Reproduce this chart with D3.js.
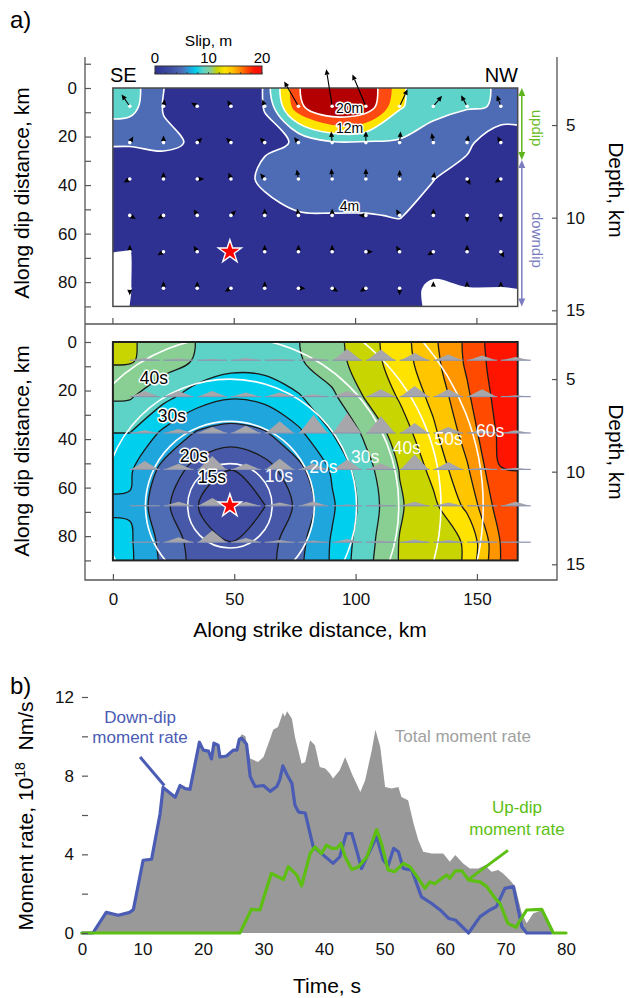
<!DOCTYPE html>
<html>
<head>
<meta charset="utf-8">
<script src="https://cdn.jsdelivr.net/npm/d3@7"></script>
<style>
  body { margin: 0; background: #fff; }
  svg { font-family: "Liberation Sans", Arial, sans-serif; }
</style>
</head>
<body>
<svg width="629" height="998"></svg>
<script>
// fault model: 12 subfaults along strike, 6 down dip
var nStrike = 12, nDip = 6;
var faultLength = 166.8, faultWidth = 90;   // km
var hypocenter = [48.2, 67.5];              // km along strike, km along dip

// slip per subfault (m), rows = down dip
var slip = [
  [9.5, 3.8, 2.0, 2.0, 4.1, 19, 25, 23, 12.5, 9, 8.3, 7.8],
  [4.3, 4.6, 3.6, 2.5, 3.5, 4.2, 7.5, 7.5, 7.5, 6.5, 5.0, 0.4],
  [1.5, 2.0, 2.0, 2.0, 4.8, 6.5, 7.0, 7.0, 6.0, 4.1, 2.0, 2.5],
  [1.5, 2.0, 2.0, 2.5, 2.5, 3.7, 3.8, 3.8, 4.2, 2.5, 2.0, 2.0],
  [-0.05, 1.5, 1.5, 1.5, 1.0, 1.5, 1.5, 1.5, 2.0, 1.5, 1.5, 1.5],
  [-0.05, 1.0, 1.5, 1.5, 0.3, 1.0, 1.0, 1.5, 1.0, -0.5, -0.05, -0.05]
];
// slip direction on the plot, degrees clockwise from up-dip
var rake = [
  [-35, 10, -60, -30, -20, -30, -9, -23, 25, 40, -29, -20],
  [30, 0, 45, -45, -45, -40, -5, 0, 5, -10, 10, -30],
  [-120, 0, 90, -20, -40, -10, -5, 0, 0, 10, 150, -120],
  [120, -120, -30, 45, 0, -10, 0, -90, -30, 0, 180, 180],
  [0, -120, -30, 0, 0, 0, 0, 90, -30, -120, 0, 150],
  [180, 0, 0, -120, 0, 90, 120, -120, 180, 0, 0, 0]
];
// rupture time per subfault (s)
var ruptureTime = [
  [45.5, 42.5, 39.5, 37.5, 37.5, 39.5, 43, 47.6, 52.6, 58.5, 65.9, 73.2],
  [40.5, 36.5, 32.5, 30.5, 31.5, 34.5, 39, 45.5, 50.5, 56.4, 64.2, 72.4],
  [35, 29, 24.5, 23, 24.5, 29, 35, 41, 47.5, 54, 62.1, 71.3],
  [30.7, 23.6, 18, 15.1, 18, 23.6, 30.7, 38.3, 45.2, 51.4, 59.4, 69.9],
  [29.5, 21.2, 15.2, 9, 14.9, 21.1, 29.3, 37, 44.4, 48.9, 56.2, 67.9],
  [30.7, 23.4, 17.8, 15.1, 17.6, 23.4, 30.5, 38, 45.2, 47.7, 50.5, 65.3]
];
// peak of each subfault source time function (relative)
var stfPeak = [
  [2.3, 1.7, 1.3, 2.3, 1.3, 2.3, 11.3, 10.7, 7.3, 5.7, 4.7, 3.3],
  [5.7, 5.7, 5.7, 4, 4, 2.3, 5.7, 7.3, 10.7, 7.3, 7.3, 1.3],
  [2.7, 4, 6, 7.3, 11.7, 18.3, 20, 16.7, 10, 6, 3.3, 2.7],
  [8.3, 5.7, 13.3, 6, 10.7, 6, 10, 6, 15, 7.3, 1.7, 1.7],
  [0.5, 4, 7.7, 4, 3.3, 4.3, 1.3, 1.3, 4, 3.3, 1, 4],
  [0.5, 5, 11.7, 4.3, 2.3, 1.7, 3.3, 1.7, 2.7, 2.3, 1.7, 0.5]
];

var slipLevels = [0, 4, 8, 12, 16, 20];
var slipColors = ["#2e3192", "#4e6cb5", "#5dd3ca", "#ffe400", "#ff4a12", "#b40000"];
var slipLineLevels = [4, 8, 12, 20];
var slipLabels = [["20m", 97.5, 8.3], ["12m", 97.5, 16.6], ["4m", 97.5, 48.6]];

var timeLevels = [15, 20, 25, 30, 35, 40, 45, 50, 55, 60, 65, 70, 75];
var timeColors = ["#3e4ba1", "#4758a9", "#4e6cb4", "#1ea6dd", "#00cfee", "#5dd2c6", "#89cf93",
                  "#c8d500", "#ffe300", "#ffc600", "#ff9600", "#ff4a00", "#ff1400", "#ff0000"];
var timeLabels = [["15s", 40.8, 55.6], ["20s", 33.4, 47.0], ["30s", 24.3, 30.5], ["40s", 16.9, 14.8]];
var frontTimes = [10, 20, 30, 40, 50, 60];
var frontSpeed = 1.74;   // km/s
var frontLabelAngle = [-41, -26, -22, -19.5, -18, -17];

var colorbarStops = [[0, "#2e3192"], [0.15, "#3f4fa3"], [0.25, "#4e6cb5"], [0.33, "#1ea6dd"],
  [0.38, "#00cfee"], [0.45, "#5dd3c6"], [0.52, "#8acf92"], [0.58, "#c8d500"], [0.65, "#ffe300"],
  [0.72, "#ffc500"], [0.78, "#ff9600"], [0.86, "#ff4a00"], [0.93, "#ff1400"], [1, "#ee1111"]];

// moment rate, 10^18 Nm/s : [time s, rate]
var totalRate = [[0,0],[1.8,0],[4.0,1.05],[6.0,0.95],[7.9,1.1],[8.5,1.25],[10.1,3.75],[11.5,3.8],
  [12.9,6.1],[13.4,7.45],[15.4,6.95],[16.2,7.55],[17.0,7.4],[17.85,7.35],[19.4,9.75],[20.05,9.35],
  [20.9,9.3],[21.4,8.9],[21.8,9.7],[22.5,9.6],[22.8,9.0],[23.9,9.05],[25.0,9.35],[25.6,9.35],
  [26.0,9.9],[26.4,10.1],[27.0,10.0],[27.8,8.87],[29.1,8.7],[30.0,8.95],[31.1,9.88],[31.6,10.34],
  [32.4,10.47],[33.2,11.2],[33.5,11.0],[33.9,11.28],[34.7,10.9],[35.2,9.97],[36.3,8.6],[36.9,8.7],
  [37.7,9.8],[38.5,9.55],[39.3,8.44],[40.2,8.36],[41.0,8.1],[41.5,7.85],[42.6,8.27],[43.5,8.95],
  [44.6,8.1],[46.0,7.17],[46.8,7.77],[47.9,9.29],[48.5,10.34],[49.3,9.46],[50.1,7.43],[51.2,7.35],
  [52.3,7.43],[52.8,6.92],[53.9,6.75],[54.8,5.57],[55.6,4.72],[56.4,4.13],[57.8,4.04],[59.7,4.04],
  [60.8,3.62],[61.7,3.96],[63.0,3.54],[64.1,3.28],[65.5,3.28],[66.6,3.45],[67.7,3.11],[68.8,3.2],
  [69.6,3.03],[70.7,2.69],[71.6,2.36],[72.7,1.0],[73.5,0.49],[74.6,1.0],[76.2,1.17],[77.9,0],[80,0]];
var downDipRate = [[0,0],[1.8,0],[4.0,1.05],[6.0,0.9],[7.9,1.05],[8.5,1.2],[10.1,3.7],[11.5,3.75],
  [12.9,6.05],[13.4,7.4],[15.4,6.9],[16.2,7.5],[17.0,7.35],[17.85,7.3],[19.4,9.7],[20.05,9.3],
  [20.9,9.25],[21.4,8.85],[21.8,9.65],[22.5,9.55],[22.8,8.95],[23.9,9.0],[25.0,9.3],[25.6,9.3],
  [26.0,9.85],[26.4,9.9],[27.2,9.6],[27.8,7.95],[28.6,7.45],[30.0,7.5],[31.1,7.2],[32.2,7.45],
  [32.7,7.8],[33.2,8.5],[33.8,8.1],[34.7,7.6],[35.2,6.5],[35.8,6.15],[36.9,6.1],[38.2,4.4],
  [39.9,3.96],[41.5,3.54],[42.6,3.87],[43.7,5.06],[44.6,5.06],[45.4,4.2],[46.2,3.28],[47.1,3.87],
  [48.7,4.89],[49.8,3.7],[50.6,3.43],[51.5,4.3],[52.3,4.13],[53.1,3.28],[54.5,3.2],[56.1,1.84],
  [57.8,1.5],[59.2,1.17],[60.6,0.74],[61.7,0.66],[63.9,0],[65.8,0.83],[67.4,1.17],[68.5,1.34],
  [69.9,2.27],[71.3,2.36],[72.7,0.32],[73.5,0],[77.5,0]];
var upDipRate = [[0,0],[26.1,0],[28.0,1.2],[29.4,1.17],[31.3,3.03],[33.3,2.72],[34.1,3.37],[35.5,2.94],
  [36.3,2.4],[37.7,4.04],[38.5,4.38],[39.6,4.04],[40.4,4.47],[41.3,4.3],[42.1,4.3],[42.8,4.55],
  [43.5,3.87],[44.6,3.23],[45.7,3.37],[47.1,3.87],[48.7,5.26],[49.5,4.55],[50.6,3.2],[51.7,3.12],
  [53.1,3.54],[54.2,3.37],[55.0,3.03],[56.7,2.27],[57.5,2.6],[58.3,2.5],[59.5,2.78],[60.3,2.95],
  [60.8,2.78],[61.7,3.16],[62.8,3.16],[63.9,2.69],[65.8,2.6],[66.9,2.36],[68.3,1.76],[69.1,1.5],
  [70.4,0.49],[71.7,0.29],[73.5,1.17],[76.0,1.2],[77.9,0],[80,0]];

var svg = d3.select("svg");
var defs = svg.append("defs");

// ---------- panel a scales (equal km scale in x and y)
var x = d3.scaleLinear().domain([-11.5, 183]).range([85, 557]);
var kmPx = x(1) - x(0);
var yTop = d3.scaleLinear().domain([0, faultWidth]).range([88, 88 + faultWidth * kmPx]);
var yBot = d3.scaleLinear().domain([0, faultWidth]).range([342, 342 + faultWidth * kmPx]);
function depthScale(s) {
  return d3.scaleLinear().domain([3.0, 3.0 + 0.131 * faultWidth]).range(s.range());
}
var cellW = faultLength / nStrike, cellH = faultWidth / nDip;
function cx(i) { return x((i + 0.5) * cellW); }
function cy(s, j) { return s((j + 0.5) * cellH); }

function pad(grid) {
  var rows = grid.map(function(r) { return [r[0]].concat(r, [r[r.length - 1]]); });
  return [rows[0]].concat(rows, [rows[rows.length - 1]]);
}

function contourShapes(grid, levels, ys) {
  var p = pad(grid), nx = p[0].length, ny = p.length;
  var values = [].concat.apply([], p);
  var ring = d3.line().curve(d3.curveCatmullRomClosed.alpha(0.5));
  return d3.contours().size([nx, ny]).thresholds(levels)(values).map(function(c) {
    var d = c.coordinates.map(function(poly) {
      return poly.map(function(r) {
        return ring(r.slice(0, -1).map(function(pt) {
          return [x((pt[0] - 1) * cellW), ys((pt[1] - 1) * cellH)];
        }));
      }).join("");
    }).join("");
    return {value: c.value, d: d};
  });
}

function addClip(id, ys) {
  defs.append("clipPath").attr("id", id).append("rect")
    .attr("x", x(0)).attr("y", ys(0))
    .attr("width", x(faultLength) - x(0))
    .attr("height", ys(faultWidth) - ys(0));
}
addClip("clipTop", yTop);
addClip("clipBot", yBot);

function haloText(g, txt, px, py, size) {
  g.append("text").attr("x", px).attr("y", py).attr("dy", "0.35em")
    .attr("text-anchor", "middle").attr("font-size", size)
    .attr("fill", "#000").attr("stroke", "#fff").attr("stroke-width", 3)
    .attr("paint-order", "stroke").attr("stroke-linejoin", "round")
    .text(txt);
}

// ---------- top panel: slip
var slipG = svg.append("g");
var slipClip = slipG.append("g").attr("clip-path", "url(#clipTop)");
var slipShapes = contourShapes(slip, slipLevels, yTop);

slipClip.selectAll(".sfill").data(slipShapes).enter().append("path")
  .attr("class", "sfill")
  .attr("d", function(d) { return d.d; })
  .attr("fill", function(d, i) { return slipColors[i]; })
  .attr("fill-rule", "evenodd");

slipClip.selectAll(".sline")
  .data(slipShapes.filter(function(d) { return slipLineLevels.indexOf(d.value) >= 0; }))
  .enter().append("path")
  .attr("class", "sline")
  .attr("d", function(d) { return d.d; })
  .attr("fill", "none").attr("stroke", "#fff").attr("stroke-width", 1.6);

slipG.append("rect")
  .attr("x", x(0)).attr("y", yTop(0))
  .attr("width", x(faultLength) - x(0)).attr("height", yTop(faultWidth) - yTop(0))
  .attr("fill", "none").attr("stroke", "#4a4a4a").attr("stroke-width", 1.5);

slipLabels.forEach(function(l) { haloText(slipG, l[0], x(l[1]), yTop(l[2]), 14); });

// slip vectors
var arrowG = slipG.append("g");
slip.forEach(function(row, j) {
  row.forEach(function(s, i) {
    var x0 = cx(i), y0 = cy(yTop, j);
    var a = rake[j][i] * Math.PI / 180;
    var ux = Math.sin(a), uy = -Math.cos(a);
    var len = Math.max(s * 1.5, 7);
    var tx = x0 + ux * len, ty = y0 + uy * len;
    var hl = 5.5, hw = 2.5;
    var bx = tx - ux * hl, by = ty - uy * hl;
    arrowG.append("line")
      .attr("x1", x0).attr("y1", y0).attr("x2", bx).attr("y2", by)
      .attr("stroke", "#000").attr("stroke-width", 1.1);
    arrowG.append("path")
      .attr("d", "M" + tx + "," + ty + "L" + (bx - uy * hw) + "," + (by + ux * hw) +
                 "L" + (bx + uy * hw) + "," + (by - ux * hw) + "Z")
      .attr("fill", "#000");
  });
});
slip.forEach(function(row, j) {
  row.forEach(function(s, i) {
    arrowG.append("circle").attr("cx", cx(i)).attr("cy", cy(yTop, j))
      .attr("r", 1.8).attr("fill", "#fff");
  });
});

var star = d3.symbol().type(d3.symbolStar).size(165);
slipG.append("path").attr("d", star)
  .attr("transform", "translate(" + x(hypocenter[0]) + "," + yTop(hypocenter[1]) + ")")
  .attr("fill", "#ff0000").attr("stroke", "#fff").attr("stroke-width", 1.4);

// colorbar
var cb = d3.scaleLinear().domain([0, 20]).range([155, 262]);
var grad = defs.append("linearGradient").attr("id", "cbgrad");
colorbarStops.forEach(function(s) {
  grad.append("stop").attr("offset", s[0]).attr("stop-color", s[1]);
});
svg.append("rect").attr("x", cb(0)).attr("y", 66).attr("width", cb(20) - cb(0)).attr("height", 8)
  .attr("fill", "url(#cbgrad)").attr("stroke", "#333").attr("stroke-width", 1);
d3.range(0, 21, 2).forEach(function(v) {
  svg.append("line").attr("x1", cb(v)).attr("x2", cb(v)).attr("y1", 72).attr("y2", 74)
    .attr("stroke", "#333").attr("stroke-width", 0.8);
});
[0, 10, 20].forEach(function(v) {
  svg.append("text").attr("x", cb(v)).attr("y", 63).attr("text-anchor", "middle")
    .attr("font-size", 15).text(v);
});
svg.append("text").attr("x", cb(10)).attr("y", 46).attr("text-anchor", "middle")
  .attr("font-size", 15.5).text("Slip, m");

svg.append("text").attr("x", 110).attr("y", 82).attr("font-size", 20).text("SE");
svg.append("text").attr("x", 518).attr("y", 82).attr("text-anchor", "end").attr("font-size", 20).text("NW");

// up-dip / down-dip arrows
function dipArrow(from, to, color) {
  var ax = x(168.5), y1 = yTop(from), y2 = yTop(to);
  svg.append("line").attr("x1", ax).attr("x2", ax).attr("y1", y1 + 5).attr("y2", y2 - 5)
    .attr("stroke", color).attr("stroke-width", 1.5);
  svg.append("path").attr("d", "M" + ax + "," + y1 + "l-3.5,8h7z").attr("fill", color);
  svg.append("path").attr("d", "M" + ax + "," + y2 + "l-3.5,-8h7z").attr("fill", color);
}
dipArrow(0, 29.7, "#5fb51c");
dipArrow(29.7, faultWidth, "#7a7ec0");
[["updip", 16.5, "#66bb22"], ["downdip", 62.6, "#7a7ec0"]].forEach(function(t) {
  svg.append("text")
    .attr("transform", "translate(532," + yTop(t[1]) + ") rotate(90)")
    .attr("text-anchor", "middle").attr("font-size", 15).attr("fill", t[2]).text(t[0]);
});

// ---------- bottom panel: rupture time
var timeG = svg.append("g");
var timeClip = timeG.append("g").attr("clip-path", "url(#clipBot)");
timeClip.append("rect")
  .attr("x", x(0)).attr("y", yBot(0))
  .attr("width", x(faultLength) - x(0)).attr("height", yBot(faultWidth) - yBot(0))
  .attr("fill", timeColors[0]);
var timeShapes = contourShapes(ruptureTime, timeLevels, yBot);
timeClip.selectAll(".tfill").data(timeShapes).enter().append("path")
  .attr("class", "tfill")
  .attr("d", function(d) { return d.d; })
  .attr("fill", function(d, i) { return timeColors[i + 1]; })
  .attr("fill-rule", "evenodd");
timeClip.selectAll(".tline").data(timeShapes).enter().append("path")
  .attr("class", "tline")
  .attr("d", function(d) { return d.d; })
  .attr("fill", "none").attr("stroke", "#1b1b1b").attr("stroke-width", 1.3);

var hx = x(hypocenter[0]), hy = yBot(hypocenter[1]);
timeClip.selectAll(".front").data(frontTimes).enter().append("circle")
  .attr("class", "front")
  .attr("cx", hx).attr("cy", hy)
  .attr("r", function(t) { return t * frontSpeed * kmPx; })
  .attr("fill", "none").attr("stroke", "#fff").attr("stroke-width", 1.6);

timeG.append("rect")
  .attr("x", x(0)).attr("y", yBot(0))
  .attr("width", x(faultLength) - x(0)).attr("height", yBot(faultWidth) - yBot(0))
  .attr("fill", "none").attr("stroke", "#222").attr("stroke-width", 2);

// source time functions
var stfX = d3.scaleLinear().domain([0, 1]).range([1, 29]);
stfPeak.forEach(function(row, j) {
  row.forEach(function(p, i) {
    var x0 = cx(i), y0 = cy(yBot, j);
    timeG.append("path")
      .attr("d", "M" + (x0 + stfX(0)) + "," + y0 + "L" + (x0 + stfX(0.5)) + "," + (y0 - p) +
                 "L" + (x0 + stfX(1)) + "," + y0 + "Z")
      .attr("fill", "#a7a7ab");
    timeG.append("line")
      .attr("x1", x0 + stfX(0) - 1).attr("x2", x0 + stfX(1) + 1).attr("y1", y0).attr("y2", y0)
      .attr("stroke", "#8d95b0").attr("stroke-width", 1.2);
  });
});

frontTimes.forEach(function(t, k) {
  var r = t * frontSpeed * kmPx + 4, a = frontLabelAngle[k] * Math.PI / 180;
  timeG.append("text")
    .attr("x", hx + r * Math.cos(a)).attr("y", hy + r * Math.sin(a)).attr("dy", "0.35em")
    .attr("font-size", 17.5).attr("fill", "#fff").text(t + "s");
});
timeLabels.forEach(function(l) { haloText(timeG, l[0], x(l[1]), yBot(l[2]), 17.5); });

timeG.append("path").attr("d", star)
  .attr("transform", "translate(" + hx + "," + hy + ")")
  .attr("fill", "#ff0000").attr("stroke", "#fff").attr("stroke-width", 1.4);

// ---------- panel a axes
function styleAxis(g) {
  g.select(".domain").remove();
  g.attr("font-family", null).attr("font-size", 17);
  g.selectAll(".tick line").attr("stroke", "#555").attr("stroke-width", 1.2);
  g.selectAll(".tick text").attr("fill", "#111");
}
svg.append("g").attr("transform", "translate(85,0)")
  .call(d3.axisLeft(yTop).tickValues(d3.range(-10, 91, 10)).tickSizeInner(-6).tickSizeOuter(0)
    .tickPadding(8).tickFormat(function(d) { return d % 20 === 0 ? d : ""; }))
  .call(styleAxis);
svg.append("g").attr("transform", "translate(85,0)")
  .call(d3.axisLeft(yBot).tickValues(d3.range(0, 91, 10)).tickSizeInner(-6).tickSizeOuter(0)
    .tickPadding(8).tickFormat(function(d) { return d % 20 === 0 ? d : ""; }))
  .call(styleAxis);
svg.append("g").attr("transform", "translate(557,0)")
  .call(d3.axisRight(depthScale(yTop)).tickValues([5, 10, 15]).tickSizeInner(-5).tickSizeOuter(0).tickPadding(9))
  .call(styleAxis);
svg.append("g").attr("transform", "translate(557,0)")
  .call(d3.axisRight(depthScale(yBot)).tickValues([5, 10, 15]).tickSizeInner(-5).tickSizeOuter(0).tickPadding(9))
  .call(styleAxis);
svg.append("g").attr("transform", "translate(0,580)")
  .call(d3.axisBottom(x).tickValues([0, 50, 100, 150]).tickSizeInner(-6).tickSizeOuter(0).tickPadding(13))
  .call(styleAxis);
[0, 50, 100, 150].forEach(function(v) {
  svg.append("line").attr("x1", x(v)).attr("x2", x(v)).attr("y1", 324).attr("y2", 318)
    .attr("stroke", "#555").attr("stroke-width", 1.2);
});
svg.append("path").attr("d", "M85,57V580H557V57M85,324H557")
  .attr("fill", "none").attr("stroke", "#555").attr("stroke-width", 1.3);

svg.append("text").attr("transform", "translate(29,193) rotate(-90)")
  .attr("text-anchor", "middle").attr("font-size", 21).text("Along dip distance, km");
svg.append("text").attr("transform", "translate(29,451) rotate(-90)")
  .attr("text-anchor", "middle").attr("font-size", 21).text("Along dip distance, km");
svg.append("text").attr("transform", "translate(609,190) rotate(90)")
  .attr("text-anchor", "middle").attr("font-size", 21).text("Depth, km");
svg.append("text").attr("transform", "translate(609,452) rotate(90)")
  .attr("text-anchor", "middle").attr("font-size", 21).text("Depth, km");
svg.append("text").attr("x", 310).attr("y", 637).attr("text-anchor", "middle")
  .attr("font-size", 21).text("Along strike distance, km");
svg.append("text").attr("x", 10).attr("y", 28).attr("font-size", 24).text("a)");

// ---------- panel b: moment rate
var xB = d3.scaleLinear().domain([0, 80]).range([82, 566]);
var yB = d3.scaleLinear().domain([0, 12]).range([933, 697]);
var gB = svg.append("g");

gB.append("path").datum(totalRate)
  .attr("d", d3.area().x(function(d) { return xB(d[0]); }).y0(yB(0)).y1(function(d) { return yB(d[1]); }))
  .attr("fill", "#999999");

var rateLine = d3.line().x(function(d) { return xB(d[0]); }).y(function(d) { return yB(d[1]); });
gB.append("path").datum(downDipRate).attr("d", rateLine)
  .attr("fill", "none").attr("stroke", "#4a5cb4").attr("stroke-width", 3.2)
  .attr("stroke-linejoin", "round").attr("stroke-linecap", "round");
gB.append("path").datum(upDipRate).attr("d", rateLine)
  .attr("fill", "none").attr("stroke", "#5cbf12").attr("stroke-width", 3.2)
  .attr("stroke-linejoin", "round").attr("stroke-linecap", "round");

// pointers and labels
gB.append("path").datum([[9.6, 8.95], [13.6, 7.5]]).attr("d", rateLine)
  .attr("stroke", "#4a5cb4").attr("stroke-width", 3);
gB.append("path").datum([[70.4, 4.2], [63.8, 2.7]]).attr("d", rateLine)
  .attr("stroke", "#5cbf12").attr("stroke-width", 3);
function legendText(txt, t, v, color, anchor) {
  gB.append("text").attr("x", xB(t)).attr("y", yB(v)).attr("text-anchor", anchor)
    .attr("font-size", 17).attr("fill", color).text(txt);
}
legendText("Down-dip", 9.6, 10.68, "#4a5cb4", "middle");
legendText("moment rate", 9.6, 9.66, "#4a5cb4", "middle");
legendText("Total moment rate", 51.7, 9.71, "#a0a0a0", "start");
legendText("Up-dip", 71.9, 6.1, "#5cbf12", "middle");
legendText("moment rate", 71.9, 4.98, "#5cbf12", "middle");

svg.append("g").attr("transform", "translate(82,0)")
  .call(d3.axisLeft(yB).tickValues(d3.range(0, 13, 2)).tickSizeInner(-6).tickSizeOuter(0)
    .tickPadding(8).tickFormat(function(d) { return d % 4 === 0 ? d : ""; }))
  .call(styleAxis);
svg.append("g").attr("transform", "translate(0,933)")
  .call(d3.axisBottom(xB).tickValues(d3.range(0, 81, 10)).tickSize(0).tickPadding(10))
  .call(styleAxis);

var yTitle = svg.append("text").attr("transform", "translate(33,816) rotate(-90)")
  .attr("text-anchor", "middle").attr("font-size", 21);
yTitle.append("tspan").text("Moment rate, 10");
yTitle.append("tspan").attr("font-size", 14).attr("dy", -8).text("18");
yTitle.append("tspan").attr("dy", 8).text("\u00a0\u00a0Nm/s");
svg.append("text").attr("x", 327).attr("y", 993).attr("text-anchor", "middle")
  .attr("font-size", 21).text("Time, s");
svg.append("text").attr("x", 10).attr("y", 694).attr("font-size", 24).text("b)");
</script>
</body>
</html>
